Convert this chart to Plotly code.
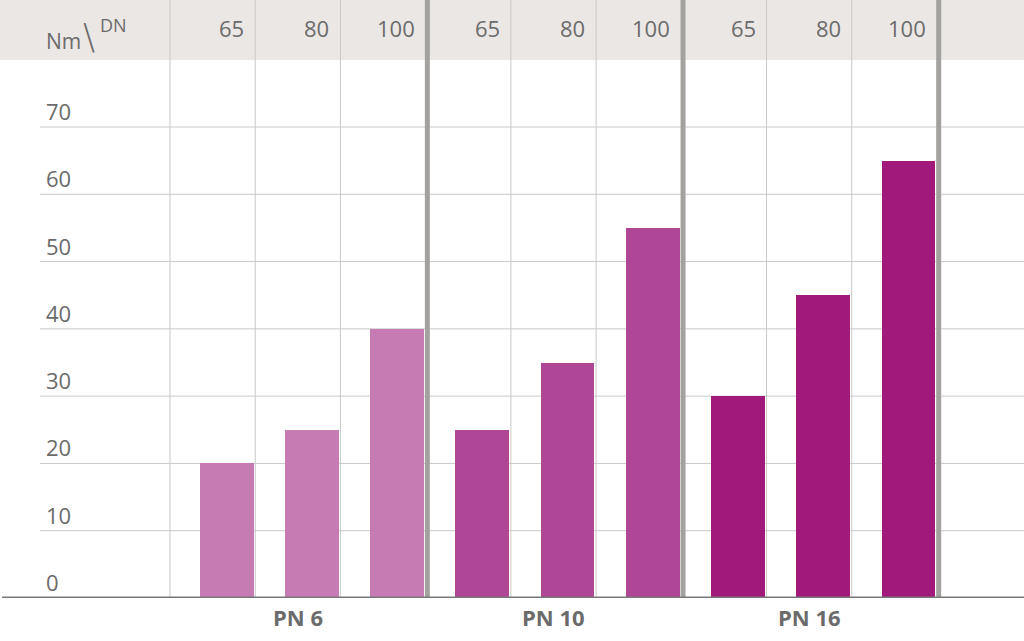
import plotly.graph_objects as go

# ---- data ----
groups = ["PN 6", "PN 10", "PN 16"]
dn_labels = ["65", "80", "100"]
torque_pn6 = [20, 25, 40]
torque_pn10 = [25, 35, 55]
torque_pn16 = [30, 45, 65]
y_ticks = [0, 10, 20, 30, 40, 50, 60, 70]
series = [torque_pn6, torque_pn10, torque_pn16]
colors = ["#c77bb3", "#b04796", "#a0197b"]

# ---- layout constants ----
W, H = 1024, 641
BOTTOM = 43
plot_h = H - BOTTOM
ppu = 471 / 70.0
y_top = plot_h / ppu
col_w = (937 - 170) / 9.0
x_left = -170 / col_w
x_right = 9 + (W - 937) / col_w
bar_w = 0.63
header_y = (plot_h - 60) / ppu

FONT = "Open Sans"
TXT = "#6b6b6b"

def py(px_from_top):
    return (plot_h - px_from_top) / ppu

fig = go.Figure()
for g, vals in enumerate(series):
    xs = [g * 3 + j + 1 - 0.02 - bar_w / 2 for j in range(len(vals))]
    fig.add_trace(go.Bar(x=xs, y=vals, width=bar_w, marker=dict(color=colors[g], line=dict(width=0)),
                         name=groups[g], showlegend=False, hoverinfo="y"))

shapes = []
shapes.append(dict(type="rect", xref="paper", yref="y", x0=0, x1=1, y0=header_y, y1=y_top,
                   fillcolor="#ebe7e4", line=dict(width=0), layer="below"))
for v in y_ticks[1:]:
    shapes.append(dict(type="line", xref="paper", yref="y", x0=40 / W, x1=1, y0=v, y1=v,
                       line=dict(color="#c9c9c9", width=1), layer="below"))
for k in range(10):
    if k in (3, 6, 9):
        continue
    shapes.append(dict(type="line", xref="x", yref="y", x0=k, x1=k, y0=0, y1=y_top,
                       line=dict(color="#c9c9c9", width=1), layer="below"))
for k in (3, 6, 9):
    shapes.append(dict(type="line", xref="x", yref="y", x0=k + 0.02, x1=k + 0.02, y0=0, y1=y_top,
                       line=dict(color="#a4a29e", width=5), layer="above"))
shapes.append(dict(type="line", xref="paper", yref="y", x0=2 / W, x1=1, y0=0, y1=0,
                   line=dict(color="#787878", width=3), layer="above"))

annotations = []
for v in y_ticks:
    annotations.append(dict(text=str(v), xref="paper", yref="y", x=44 / W, y=v, xanchor="left",
                            yanchor="bottom", yshift=-1, showarrow=False,
                            font=dict(family=FONT, size=22, color=TXT)))
for g in range(3):
    for j, lab in enumerate(dn_labels):
        annotations.append(dict(text=lab, xref="x", yref="y", x=g * 3 + j + 1, y=py(28),
                                xanchor="right", yanchor="middle", xshift=-9, showarrow=False,
                                font=dict(family=FONT, size=22, color=TXT)))
    annotations.append(dict(text="<b>" + groups[g] + "</b>", xref="x", yref="paper", x=g * 3 + 1.5,
                            y=-(617 - plot_h) / plot_h, xanchor="center", yanchor="middle",
                            showarrow=False, font=dict(family=FONT, size=22, color=TXT)))
# corner label "Nm\DN"
annotations.append(dict(text="Nm", xref="paper", yref="y", x=44 / W, y=py(41),
                        xanchor="left", yanchor="middle", showarrow=False,
                        font=dict(family=FONT, size=21, color=TXT)))
annotations.append(dict(text="\\", xref="paper", yref="y", x=81 / W, y=py(36),
                        xanchor="left", yanchor="middle", showarrow=False,
                        font=dict(family="DejaVu Sans", size=36, color=TXT, weight=200)))
annotations.append(dict(text="DN", xref="paper", yref="y", x=98 / W, y=py(25),
                        xanchor="left", yanchor="middle", showarrow=False,
                        font=dict(family=FONT, size=18, color=TXT)))

fig.update_layout(
    width=W, height=H,
    margin=dict(l=0, r=0, t=0, b=BOTTOM),
    paper_bgcolor="white", plot_bgcolor="white",
    xaxis=dict(range=[x_left, x_right], visible=False, fixedrange=True),
    yaxis=dict(range=[0, y_top], visible=False, fixedrange=True),
    shapes=shapes, annotations=annotations, bargap=0,
)

fig.write_html("out.html")
